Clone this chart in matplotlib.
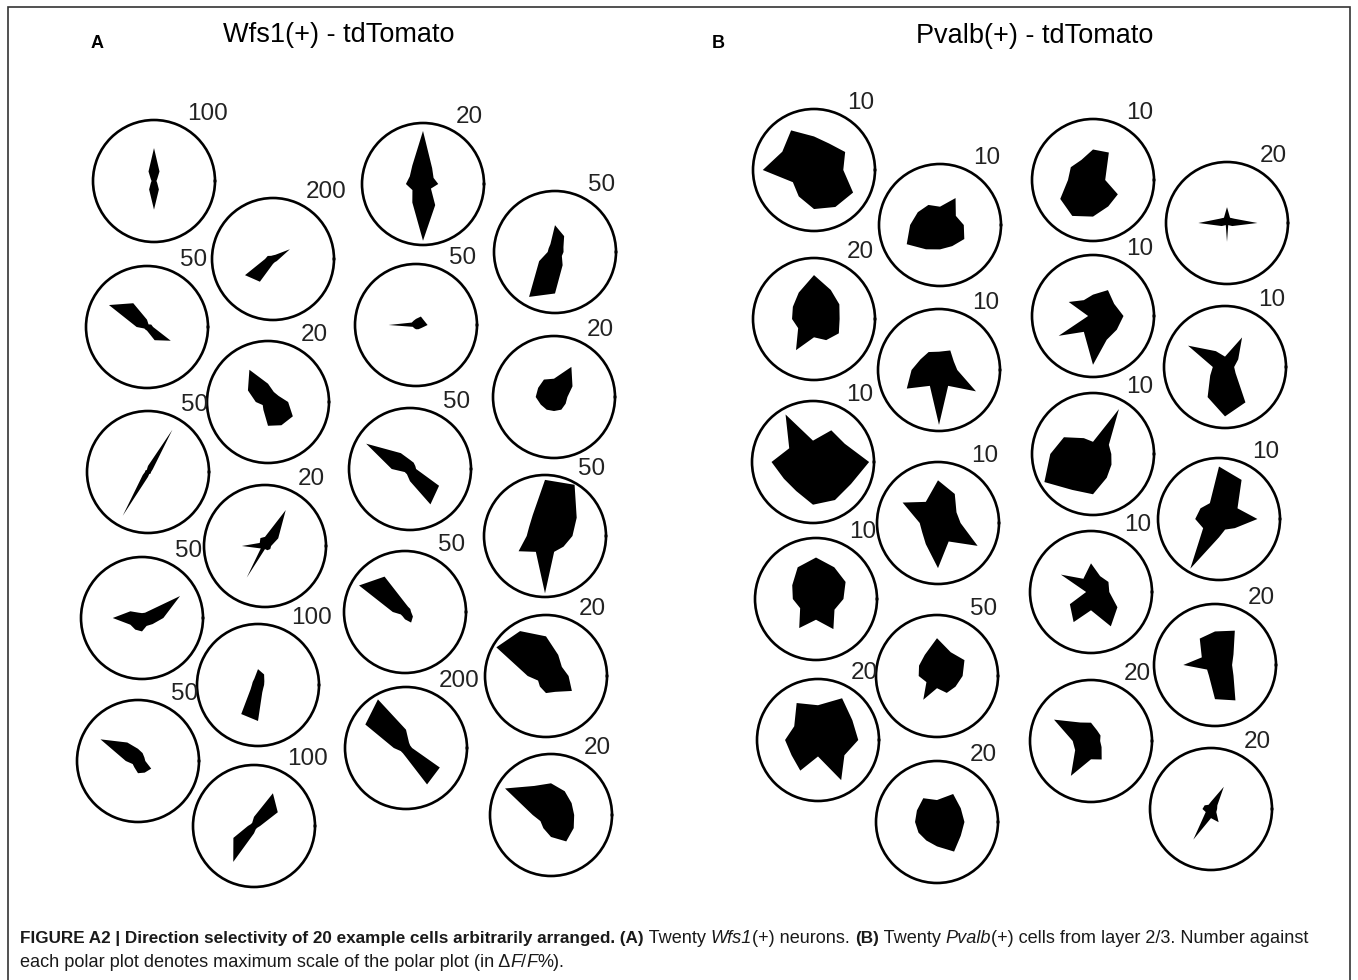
import numpy as np
import matplotlib
matplotlib.use("Agg")
import matplotlib.pyplot as plt
from matplotlib.patches import Rectangle

plt.rcParams["font.family"] = ["Liberation Sans", "DejaVu Sans"]

W, H = 1358, 980
DIRS = np.arange(0, 360, 30)          # stimulus directions (deg)

# ── (A) Wfs1(+) cells: max of polar scale (ΔF/F %) and responses per direction
escala_a = [100, 200, 50, 20, 50, 20, 50, 100, 50, 100,
            20, 50, 50, 20, 50, 50, 50, 20, 200, 20]
resp_a = [
    [4, 6, 18, 54, 18, 6, 4, 6, 16, 47, 16, 6],
    [20, 64, 16, 12, 12, 20, 26, 106, 86, 16, 12, 14],
    [5, 4, 2.5, 6, 22.5, 36, 8.5, 2.5, 2.5, 3, 12.5, 22.5],
    [6.6, 4, 3.8, 6, 12.2, 7.6, 4, 2, 3, 7.8, 8.8, 9.4],
    [2.5, 4.5, 40, 5, 2, 2.5, 2.5, 5, 41.5, 4, 2, 2.5],
    [2, 5, 13.6, 3, 3, 2, 7.6, 1.6, 12, 1, 1.6, 2],
    [17.5, 36, 5, 4, 5, 11, 24, 11, 11, 11, 7.5, 10],
    [10, 12, 20, 26, 12, 10, 10, 14, 55, 59, 14, 10],
    [6, 6, 7.5, 10, 17.5, 35.5, 10, 5, 6, 10, 11, 12.5],
    [10, 45, 62, 15, 6, 6, 10, 39, 68, 12, 6, 6],
    [5, 4, 6, 17.4, 7, 5, 5.6, 4, 7, 18.6, 8, 3],
    [7, 8, 15, 22, 7.5, 6, 6, 15, 42.5, 34, 12.5, 6.5],
    [9.5, 7.5, 8, 5, 4, 4, 22.5, 3, 3, 3.5, 4, 5],
    [4.4, 7, 11.4, 6, 6.6, 6, 6, 5, 4.8, 4.6, 4.8, 4.4],
    [5, 5, 6, 7.5, 15, 41.5, 15, 5, 5, 10, 33.5, 27.5],
    [22.5, 30, 48.5, 46, 20, 15, 15, 25, 15, 47, 15, 17.5],
    [5, 5, 5, 7.5, 33.5, 43.5, 10, 4, 4, 6, 10, 7.5],
    [7.4, 6, 8, 13, 17, 18.8, 6, 3, 4, 5.6, 6, 9.8],
    [20, 16, 20, 60, 184, 154, 40, 20, 20, 30, 138, 128],
    [7.6, 7.8, 9, 10.4, 11, 17.4, 6, 4, 5, 7.2, 10, 8.6],
]

# ── (B) Pvalb(+) cells, layer 2/3
escala_b = [10, 10, 20, 10, 10, 10, 10, 50, 20, 20,
            10, 20, 10, 10, 10, 10, 10, 20, 20, 20]
resp_b = [
    [4.8, 5.9, 5, 5.5, 7.5, 6, 8.4, 4, 5, 6.4, 7, 7.4],
    [3.9, 3, 5.1, 3, 3.8, 4.2, 4.9, 6.3, 4.6, 4, 4, 4.6],
    [8.4, 9.6, 11, 14.4, 10, 8, 7.2, 6, 11.8, 6, 8, 9.4],
    [3, 2.8, 3.7, 3, 3.4, 3.5, 4.5, 6.1, 3, 9, 3, 7],
    [9.2, 6, 6, 3.5, 9, 4.5, 6.8, 5.5, 5.5, 7, 7.2, 7.2],
    [3.7, 3.5, 5.5, 7, 4, 6.7, 3, 3, 4, 7.4, 3.5, 7.5],
    [4.5, 5.6, 6, 6.8, 6, 4.5, 3.8, 3, 5.5, 3.4, 5.7, 3.5],
    [21, 26, 22.5, 31, 20, 17, 15, 10, 22.5, 10, 16, 17.5],
    [13.2, 13, 15.8, 11.4, 14, 9, 10.8, 10, 11.6, 5.4, 15.2, 10],
    [9, 9, 10.6, 7.2, 9, 7.6, 7.2, 7, 7, 8, 11.2, 9],
    [2, 2.5, 5.2, 5, 3.8, 4.2, 4.1, 6.2, 6.8, 6, 5, 4.7],
    [10, 2.8, 2, 5.2, 2, 2.8, 9.4, 2, 0.8, 6.2, 0.8, 2],
    [5, 4, 4.9, 3.5, 3, 4.6, 0.8, 6.5, 3, 8, 4.5, 4.5],
    [1.5, 2.5, 5.6, 1.7, 3, 7, 2, 2.8, 5.7, 8.1, 6.7, 2],
    [3, 3, 8.5, 2, 3, 5.5, 7, 9.2, 6.8, 6.6, 4.5, 3.5],
    [6.3, 3.5, 7.4, 8.6, 3, 3.5, 3.9, 3, 9.4, 3, 2, 3],
    [3, 3.3, 3, 4.7, 2.5, 5.7, 0.8, 4, 5.7, 3, 6.5, 5],
    [5.6, 7, 13, 11, 10, 5, 10.4, 3, 4, 11.2, 13.4, 7],
    [3, 3.6, 4, 6, 7, 14, 6, 6, 13.2, 6, 7, 4],
    [2, 2.4, 8.4, 2.4, 1.6, 2.4, 2.8, 2, 11.6, 3, 5, 2],
]

# arbitrary placement of the polar plots (pixel centres on the page)
pos_a = [(154, 181), (273, 259), (147, 327), (268, 402), (148, 472),
         (265, 546), (142, 618), (258, 685), (138, 761), (254, 826),
         (423, 184), (555, 252), (416, 325), (554, 397), (410, 469),
         (545, 536), (405, 612), (546, 676), (406, 748), (551, 815)]
pos_b = [(814, 170), (940, 225), (814, 319), (939, 370), (813, 462),
         (938, 523), (816, 599), (937, 676), (818, 740), (937, 822),
         (1093, 180), (1227, 223), (1093, 316), (1225, 367), (1093, 454),
         (1219, 519), (1091, 592), (1215, 665), (1091, 741), (1211, 809)]
RAIO = 61

fig = plt.figure(figsize=(W / 100, H / 100), dpi=100)
fig.patches.append(Rectangle((8 / W, -0.01), 1342 / W, 1 - 7 / H + 0.01,
                             transform=fig.transFigure, fill=False,
                             edgecolor="#333333", lw=1.2))


def polar(cx, cy, vals, rmax):
    ax = fig.add_axes([(cx - RAIO) / W, 1 - (cy + RAIO) / H,
                       2 * RAIO / W, 2 * RAIO / H], projection="polar")
    th = np.deg2rad(np.append(DIRS, DIRS[0]))
    r = np.append(vals, vals[0])
    ax.fill(th, r, color="black", lw=0)
    ax.set_ylim(0, rmax)
    ax.set_xticks([]); ax.set_yticks([]); ax.grid(False)
    ax.spines["polar"].set_linewidth(1.9)
    fig.text((cx + 33) / W, 1 - (cy - 67) / H, str(rmax), fontsize=17.5,
             ha="left", va="center", color="#222222")


for (cx, cy), v, m in zip(pos_a, resp_a, escala_a):
    polar(cx, cy, v, m)
for (cx, cy), v, m in zip(pos_b, resp_b, escala_b):
    polar(cx, cy, v, m)

fig.text(97 / W, 1 - 43 / H, "A", fontsize=13, fontweight="bold", ha="center", va="center")
fig.text(718 / W, 1 - 43 / H, "B", fontsize=13, fontweight="bold", ha="center", va="center")
fig.text(339 / W, 1 - 35 / H, "Wfs1(+) - tdTomato", fontsize=19.5, ha="center", va="center")
fig.text(1035 / W, 1 - 36 / H, "Pvalb(+) - tdTomato", fontsize=19.5, ha="center", va="center")

# caption, written run by run so bold / italic pieces line up
rend = fig.canvas.get_renderer()


def linha(x, y, partes):
    for txt, kw in partes:
        t = fig.text(x / W, 1 - y / H, txt, va="baseline", color="#1a1a1a", **kw)
        x += t.get_window_extent(rend).width


B = {"fontweight": "bold", "fontsize": 12.3}
N = {"fontsize": 13.1}
I = {"style": "italic", "fontsize": 13.1}
linha(20, 943, [
    ("FIGURE A2 | Direction selectivity of 20 example cells arbitrarily arranged.", B),
    (" (A)", B), (" Twenty ", N), ("Wfs1", I), ("(+) neurons. ", N),
    ("(B)", B), (" Twenty ", N), ("Pvalb", I),
    ("(+) cells from layer 2/3. Number against", N)])
linha(20, 967, [
    ("each polar plot denotes maximum scale of the polar plot (in \u0394", N),
    ("F", I), ("/", N), ("F", I), ("%).", N)])

fig.savefig("out.png", dpi=100)
